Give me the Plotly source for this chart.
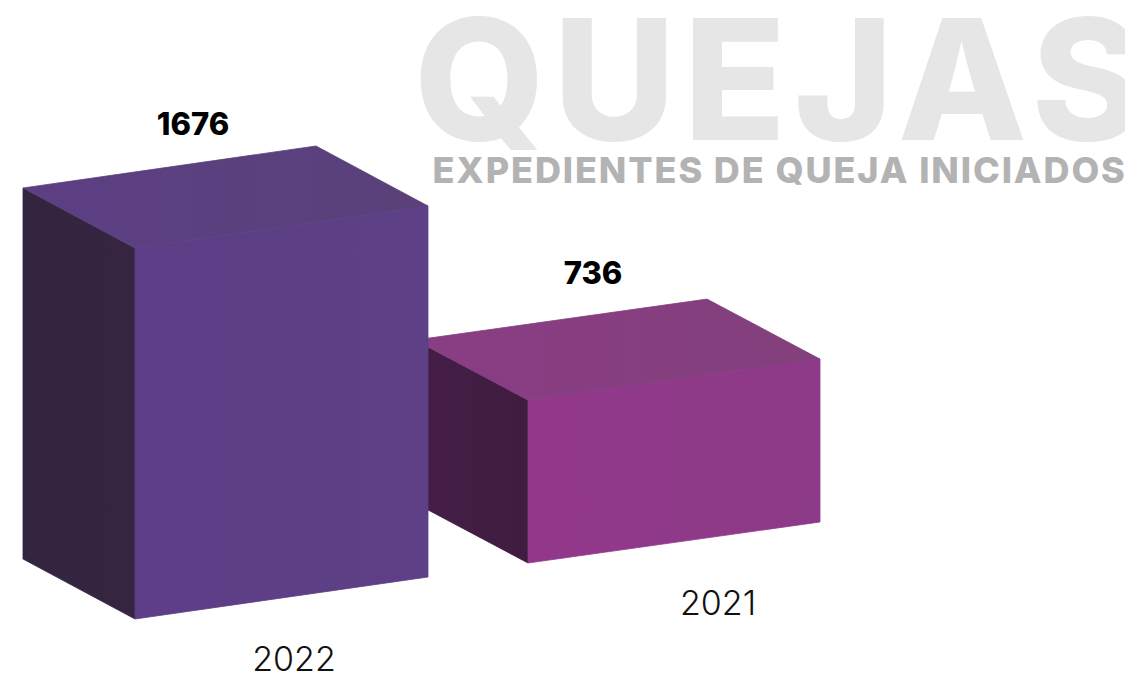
import plotly.graph_objects as go

# ---- data ----
years = ["2022", "2021"]
quejas = [1676, 736]
value_labels = ["1676", "736"]
title_text = "QUEJAS"
subtitle_text = "EXPEDIENTES DE QUEJA INICIADOS"

# ---- layout constants ----
W, H = 1125, 675
UNITS_PER_PX = 1676 / 371.0            # value axis scale
Y_BOTTOM_PX = 619                      # pixel of value 0 on the axis


def px_h(p):
    """A vertical distance in pixels expressed in axis (value) units."""
    return p * UNITS_PER_PX


y_range = [px_h(Y_BOTTOM_PX - H), px_h(Y_BOTTOM_PX)]

front_x = [135, 528]
base_lift = [px_h(0), px_h(56)]
width_vec = [(293, -42), (292, -41)]
depth_vec = [(-112, -60), (-113, -60)]
label_x = [193, 593]
label_gap = [px_h(19), px_h(23)]
year_x = [294, 718]
year_drop = [px_h(43), px_h(43)]

face_style = [
    dict(front=["#5d3e87", "#5d4085"], top=["#5c3f84", "#5a4179"], side=["#33243f", "#352540"]),
    dict(front=["#92388b", "#8d3a88"], top=["#8a3d84", "#82407c"], side=["#451e48", "#3f1c40"]),
]


def corner(i, w, d, v):
    x = front_x[i] + w * width_vec[i][0] + d * depth_vec[i][0]
    y = base_lift[i] + v + px_h(-(w * width_vec[i][1] + d * depth_vec[i][1]))
    return x, y


def face(i, pts, colors, gtype):
    xy = [corner(i, *p) for p in pts]
    xs = [p[0] for p in xy] + [xy[0][0]]
    ys = [p[1] for p in xy] + [xy[0][1]]
    return go.Scatter(
        x=xs, y=ys, mode="lines", fill="toself",
        line=dict(width=0.8, color=colors[1]), hoverinfo="skip", showlegend=False,
        fillgradient=dict(type=gtype, colorscale=[[0, colors[0]], [1, colors[1]]]),
    )


fig = go.Figure()
for i in [1, 0]:            # far bar first so the near one covers it
    v = quejas[i]
    s = face_style[i]
    fig.add_trace(face(i, [(0, 1, 0), (0, 0, 0), (0, 0, v), (0, 1, v)], s["side"], "horizontal"))
    fig.add_trace(face(i, [(0, 0, v), (1, 0, v), (1, 1, v), (0, 1, v)], s["top"], "horizontal"))
    fig.add_trace(face(i, [(0, 0, 0), (1, 0, 0), (1, 0, v), (0, 0, v)], s["front"], "horizontal"))

# value labels above the bars
top_y = [corner(i, 1, 1, quejas[i])[1] for i in range(2)]
fig.add_trace(go.Scatter(
    x=label_x, y=[t + g for t, g in zip(top_y, label_gap)],
    mode="text", text=value_labels, textposition="middle center",
    textfont=dict(family="Inter", size=31, color="#000000", weight=800),
    hoverinfo="skip", showlegend=False,
))
# year labels below the bars
bottom_y = [base_lift[i] for i in range(2)]
fig.add_trace(go.Scatter(
    x=year_x, y=[b - g for b, g in zip(bottom_y, year_drop)],
    mode="text", text=years, textposition="middle center",
    textfont=dict(family="Inter", size=34, color="#111111", weight=300),
    hoverinfo="skip", showlegend=False,
))

fig.add_annotation(
    xref="paper", yref="paper", x=782 / W, y=1 - 79 / H, xanchor="center", yanchor="middle",
    text=title_text, showarrow=False,
    font=dict(family="Inter", size=168, color="#e6e6e6", weight=800),
)
fig.add_annotation(
    xref="paper", yref="paper", x=779 / W, y=1 - 170 / H, xanchor="center", yanchor="middle",
    text=subtitle_text, showarrow=False,
    font=dict(family="Inter", size=36, color="#b3b3b3", weight=800),
)

fig.update_layout(
    width=W, height=H, autosize=False,
    margin=dict(l=0, r=0, t=0, b=0),
    paper_bgcolor="#ffffff", plot_bgcolor="#ffffff",
    showlegend=False,
    xaxis=dict(range=[0, W], visible=False, fixedrange=True),
    yaxis=dict(range=y_range, visible=False, fixedrange=True),
)
fig.write_html(
    "out.html",
    config={"displayModeBar": False},
    post_script=(
        "document.body.style.margin='0';"
        "var sp=['8px','1.9px'];"
        "document.querySelectorAll('.annotation-text').forEach(function(t,i){t.style.letterSpacing=sp[i];});"
    ),
)
